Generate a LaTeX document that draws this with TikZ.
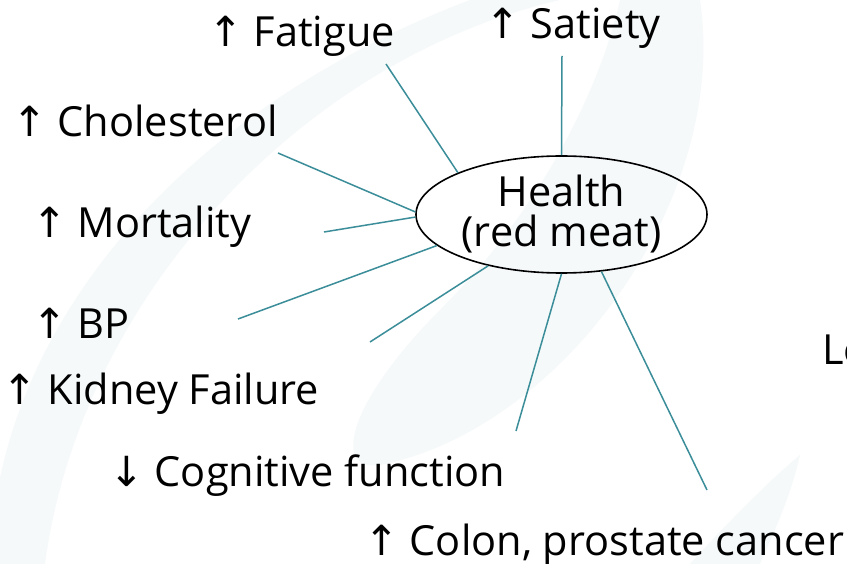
\documentclass[tikz,border=0pt]{standalone}
\usepackage{fontspec}
\setmainfont{Open Sans}
\newfontfamily\arrowfont{DejaVu Sans}
\usetikzlibrary{shapes.geometric}

\definecolor{spoketeal}{RGB}{59,142,153}
\definecolor{wmark}{RGB}{245,249,250}

\newcommand\uparr{{\arrowfont ↑}}
\newcommand\downarr{{\arrowfont ↓}}

\tikzset{
  label text/.style={anchor=base west, inner sep=0pt,
    font=\fontsize{41.5}{41.5}\selectfont},
  hub/.style={draw=black, line width=1.6pt, ellipse, inner sep=0pt,
    minimum width=291pt, minimum height=117pt, align=center,
    font=\fontsize{41.5}{40}\selectfont},
  spoke/.style={draw=spoketeal, line width=1.5pt},
  watermark/.style={fill=wmark, draw=none}
}

\begin{document}
\begin{tikzpicture}[x=1pt, y=-1pt]
  \useasboundingbox (0,0) rectangle (847,564);
  \fill[white] (0,0) rectangle (847,564);

  % faint logo swoosh in the background
  \begin{scope}
    \clip (0,0) rectangle (847,564);
    \path[watermark] (-10,564) .. controls (-5,330) and (180,110) .. (470,0)
      -- (560,0) .. controls (300,60) and (80,300) .. (45,564) -- cycle;
    \path[watermark] (620,0) -- (700,0)
      .. controls (730,200) and (560,430) .. (380,465)
      .. controls (330,472) and (350,400) .. (440,310)
      .. controls (540,210) and (600,90) .. (620,0) -- cycle;
    \path[watermark] (690,564) .. controls (730,520) and (770,480) .. (800,455)
      .. controls (790,500) and (770,540) .. (760,564) -- cycle;
  \end{scope}

  % central ellipse
  \node[hub] (h) at (561.5,214.5) {Health\\(red meat)};

  % surrounding effects
  \node[label text] (fat)  at (208,47)  {\uparr\ Fatigue};
  \node[label text] (sat)  at (485,39)  {\uparr\ Satiety};
  \node[label text] (chol) at (12,137)  {\uparr\ Cholesterol};
  \node[label text] (mort) at (32,238)  {\uparr\ Mortality};
  \node[label text] (bp)   at (32,338)  {\uparr\ BP};
  \node[label text] (kid)  at (2,405)   {\uparr\ Kidney Failure};
  \node[label text] (cog)  at (109,486) {\downarr\ Cognitive function};
  \node[label text] (col)  at (364,555) {\uparr\ Colon, prostate cancer};
  \node[label text] (lo)   at (822,365) {Lo};

  % free ends of the spokes
  \coordinate (eFat)  at (386,64);
  \coordinate (eSat)  at (562,56);
  \coordinate (eChol) at (278,153);
  \coordinate (eMort) at (324,232);
  \coordinate (eBp)   at (238,319);
  \coordinate (eKid)  at (370,342);
  \coordinate (eCog)  at (516,431);
  \coordinate (eCol)  at (707,490);

  % spokes
  \draw[spoke] (eFat)  -- (h.158);
  \draw[spoke] (eSat)  -- (h.90);
  \draw[spoke] (eChol) -- (h.179);
  \draw[spoke] (eMort) -- (h.181);
  \draw[spoke] (eBp)   -- (h.194);
  \draw[spoke] (eKid)  -- (h.215);
  \draw[spoke] (eCog)  -- (h.270);
  \draw[spoke] (eCol)  -- (h.305);
\end{tikzpicture}
\end{document}
